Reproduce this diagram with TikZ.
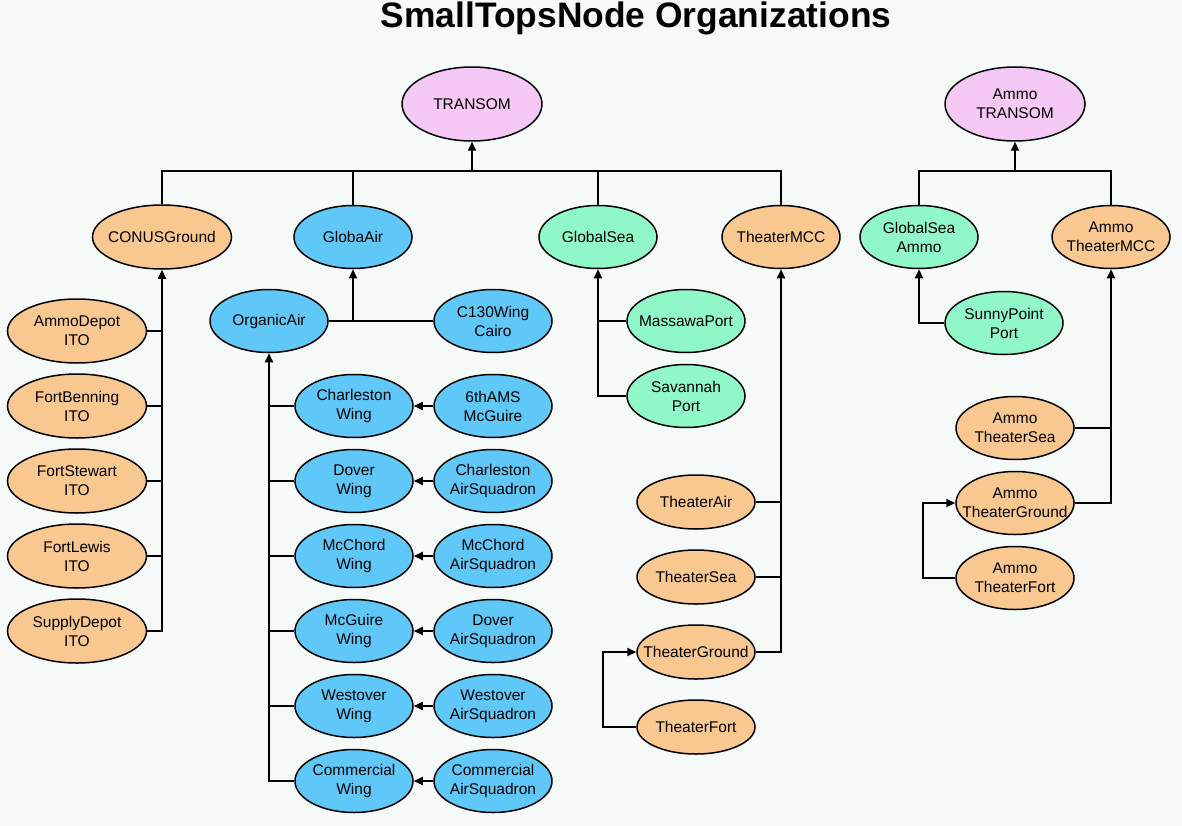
\documentclass[tikz,border=0pt]{standalone}
\usepackage{fontspec}
\setmainfont{Liberation Sans}
\usetikzlibrary{shapes.geometric,arrows.meta}
\definecolor{pinkc}{RGB}{245,200,245}
\definecolor{orangec}{RGB}{248,200,144}
\definecolor{bluec}{RGB}{96,200,248}
\definecolor{greenc}{RGB}{144,248,200}
\definecolor{bgc}{RGB}{245,250,248}
\tikzset{
  org/.style={ellipse, draw=black, line width=1.5pt, minimum width=118pt, minimum height=63pt,
    inner sep=-40pt, align=center, font=\fontsize{15.5}{19}\selectfont},
  pinknode/.style={org, fill=pinkc, minimum width=140pt, minimum height=74pt},
  orgnode/.style={org, fill=orangec},
  bluenode/.style={org, fill=bluec},
  greennode/.style={org, fill=greenc},
  wide/.style={minimum width=139pt, minimum height=64pt},
  flat/.style={minimum height=54pt},
  conn/.style={line width=2pt},
  arr/.style={conn, -{Triangle[length=9pt,width=8pt]}},
}
\begin{document}
\begin{tikzpicture}[x=1pt,y=-1pt]
\useasboundingbox (0,0) rectangle (1182,826);
\fill[bgc] (0,0) rectangle (1182,826);
\node[font=\fontsize{35.4}{40}\selectfont\bfseries] (title) at (636,18) {SmallTopsNode Organizations};

% top level
\node[pinknode] (tr) at (472,104) {TRANSOM};
\node[pinknode] (atr) at (1015,104) {Ammo\\TRANSOM};

% level 1
\node[orgnode,wide] (cg) at (162,237) {CONUSGround};
\node[bluenode] (ga) at (353,237) {GlobaAir};
\node[greennode] (gs) at (598,237) {GlobalSea};
\node[orgnode] (tmcc) at (781,237) {TheaterMCC};
\node[greennode] (gsa) at (919,237) {GlobalSea\\Ammo};
\node[orgnode] (atmcc) at (1111,237) {Ammo\\TheaterMCC};

% CONUS children
\node[orgnode,wide] (amd) at (77,331) {AmmoDepot\\ITO};
\node[orgnode,wide] (fb) at (77,406) {FortBenning\\ITO};
\node[orgnode,wide] (fs) at (77,481) {FortStewart\\ITO};
\node[orgnode,wide] (fl) at (77,556) {FortLewis\\ITO};
\node[orgnode,wide] (sd) at (77,631) {SupplyDepot\\ITO};

% air
\node[bluenode] (oa) at (269,321) {OrganicAir};
\node[bluenode] (c130) at (493,321) {C130Wing\\Cairo};
\node[bluenode] (w1) at (354,406) {Charleston\\Wing};
\node[bluenode] (s1) at (493,406) {6thAMS\\McGuire};
\node[bluenode] (w2) at (354,481) {Dover\\Wing};
\node[bluenode] (s2) at (493,481) {Charleston\\AirSquadron};
\node[bluenode] (w3) at (354,556) {McChord\\Wing};
\node[bluenode] (s3) at (493,556) {McChord\\AirSquadron};
\node[bluenode] (w4) at (354,631) {McGuire\\Wing};
\node[bluenode] (s4) at (493,631) {Dover\\AirSquadron};
\node[bluenode] (w5) at (354,706) {Westover\\Wing};
\node[bluenode] (s5) at (493,706) {Westover\\AirSquadron};
\node[bluenode] (w6) at (354,781) {Commercial\\Wing};
\node[bluenode] (s6) at (493,781) {Commercial\\AirSquadron};

% sea
\node[greennode] (mp) at (686,321) {MassawaPort};
\node[greennode] (sav) at (686,396) {Savannah\\Port};

% theater
\node[orgnode,flat] (ta) at (696,502) {TheaterAir};
\node[orgnode,flat] (ts) at (696,577) {TheaterSea};
\node[orgnode,flat] (tg) at (696,652) {TheaterGround};
\node[orgnode,flat] (tf) at (696,727) {TheaterFort};

% ammo side
\node[greennode] (sp) at (1004,323) {SunnyPoint\\Port};
\node[orgnode] (ats) at (1015,428) {Ammo\\TheaterSea};
\node[orgnode] (atg) at (1015,503) {Ammo\\TheaterGround};
\node[orgnode] (atf) at (1015,578) {Ammo\\TheaterFort};

% buses
\coordinate (bus) at (472,171);
\draw[conn] (cg.north) |- (bus) -| (tmcc.north);
\draw[conn] (ga.north) -- (ga.north |- bus);
\draw[conn] (gs.north) -- (gs.north |- bus);
\draw[arr] (bus) -- (tr.south);

\coordinate (abus) at (1015,171);
\draw[conn] (gsa.north) |- (abus) -| (atmcc.north);
\draw[arr] (abus) -- (atr.south);

% CONUS
\draw[arr] (sd.east) -| (cg.south);
\foreach \n in {amd,fb,fs,fl} \draw[conn] (\n.east) -- (\n.east -| cg.south);

% air
\draw[conn] (oa.east) -- (c130.west);
\draw[arr] (oa.east -| ga.south) -- (ga.south);
\draw[arr] (w6.west) -| (oa.south);
\foreach \n in {w1,w2,w3,w4,w5} \draw[conn] (\n.west) -- (\n.west -| oa.south);
\foreach \a/\b in {s1/w1,s2/w2,s3/w3,s4/w4,s5/w5,s6/w6} \draw[arr] (\a.west) -- (\b.east);

% sea
\draw[arr] (sav.west) -| (gs.south);
\draw[conn] (mp.west) -- (mp.west -| gs.south);

% theater
\draw[arr] (tg.east) -| (tmcc.south);
\foreach \n in {ta,ts} \draw[conn] (\n.east) -- (\n.east -| tmcc.south);
\draw[arr] (tf.west) -- ++(-33,0) |- (tg.west);

% ammo side
\draw[arr] (sp.west) -| (gsa.south);
\draw[arr] (atg.east) -| (atmcc.south);
\draw[conn] (ats.east) -- (ats.east -| atmcc.south);
\draw[arr] (atf.west) -- ++(-32,0) |- (atg.west);
\end{tikzpicture}
\end{document}
